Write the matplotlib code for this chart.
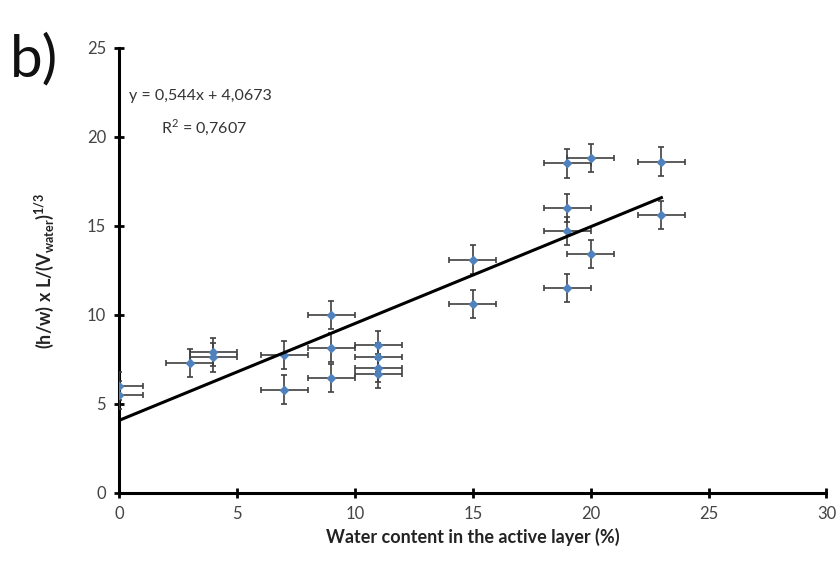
import matplotlib
matplotlib.use('Agg')
import matplotlib.pyplot as plt
import numpy as np

plt.rcParams['font.family'] = ['Lato', 'DejaVu Sans']
plt.rcParams['mathtext.fontset'] = 'custom'
plt.rcParams['mathtext.rm'] = 'Lato'
plt.rcParams['mathtext.bf'] = 'Lato:bold'

# water content (%) and shape index
water = [0, 0, 3, 4, 4, 7, 7, 9, 9, 9, 11, 11, 11, 11, 15, 15,
         19, 19, 19, 19, 20, 20, 23, 23]
index = [5.5, 6.0, 7.3, 7.6, 7.9, 7.75, 5.8, 10.0, 8.15, 6.45, 8.3, 7.6, 7.0, 6.7, 13.1, 10.6,
         18.5, 16.0, 14.7, 11.5, 18.8, 13.4, 18.6, 15.6]
x_err = 1.0
y_err = 0.8
slope, intercept = 0.544, 4.0673
fit_range = [0, 23]

fig = plt.figure(figsize=(8.39, 5.69), dpi=100)
ax = fig.add_axes([0.142, 0.134, 0.843, 0.782])

ax.errorbar(water, index, xerr=x_err, yerr=y_err, fmt='D', color='#4f81bd',
            markersize=4, ecolor='#404040', elinewidth=1.2, capsize=2.5, capthick=1.2, zorder=3)
xf = np.array(fit_range)
ax.plot(xf, slope * xf + intercept, color='black', linewidth=2.2, zorder=4)

ax.set_xlim(0, 30)
ax.set_ylim(0, 25)
ax.set_xticks(range(0, 31, 5))
ax.set_yticks(range(0, 26, 5))
for s in ['top', 'right']:
    ax.spines[s].set_visible(False)
for s in ['left', 'bottom']:
    ax.spines[s].set_linewidth(2.2)
ax.tick_params(direction='inout', length=7, width=2, labelsize=12, labelcolor='#444444', pad=6)

ax.set_xlabel('Water content in the active layer (%)', fontsize=13, fontweight='bold', color='#222222', labelpad=4)
ax.set_ylabel(r'(h/w) x L/(V$_{\mathbf{water}}$)$^{\mathbf{1/3}}$', fontsize=13, fontweight='bold',
              color='#222222', labelpad=22)

ax.text(0.115, 0.892, 'y = 0,544x + 4,0673', transform=ax.transAxes, ha='center', va='center',
        fontsize=11.5, color='#333333')
ax.text(0.12, 0.822, r'R$^{2}$ = 0,7607', transform=ax.transAxes, ha='center', va='center',
        fontsize=11.5, color='#333333')

fig.text(0.012, 0.865, 'b)', fontsize=42, color='#111111')

fig.savefig('out.png', dpi=100)
